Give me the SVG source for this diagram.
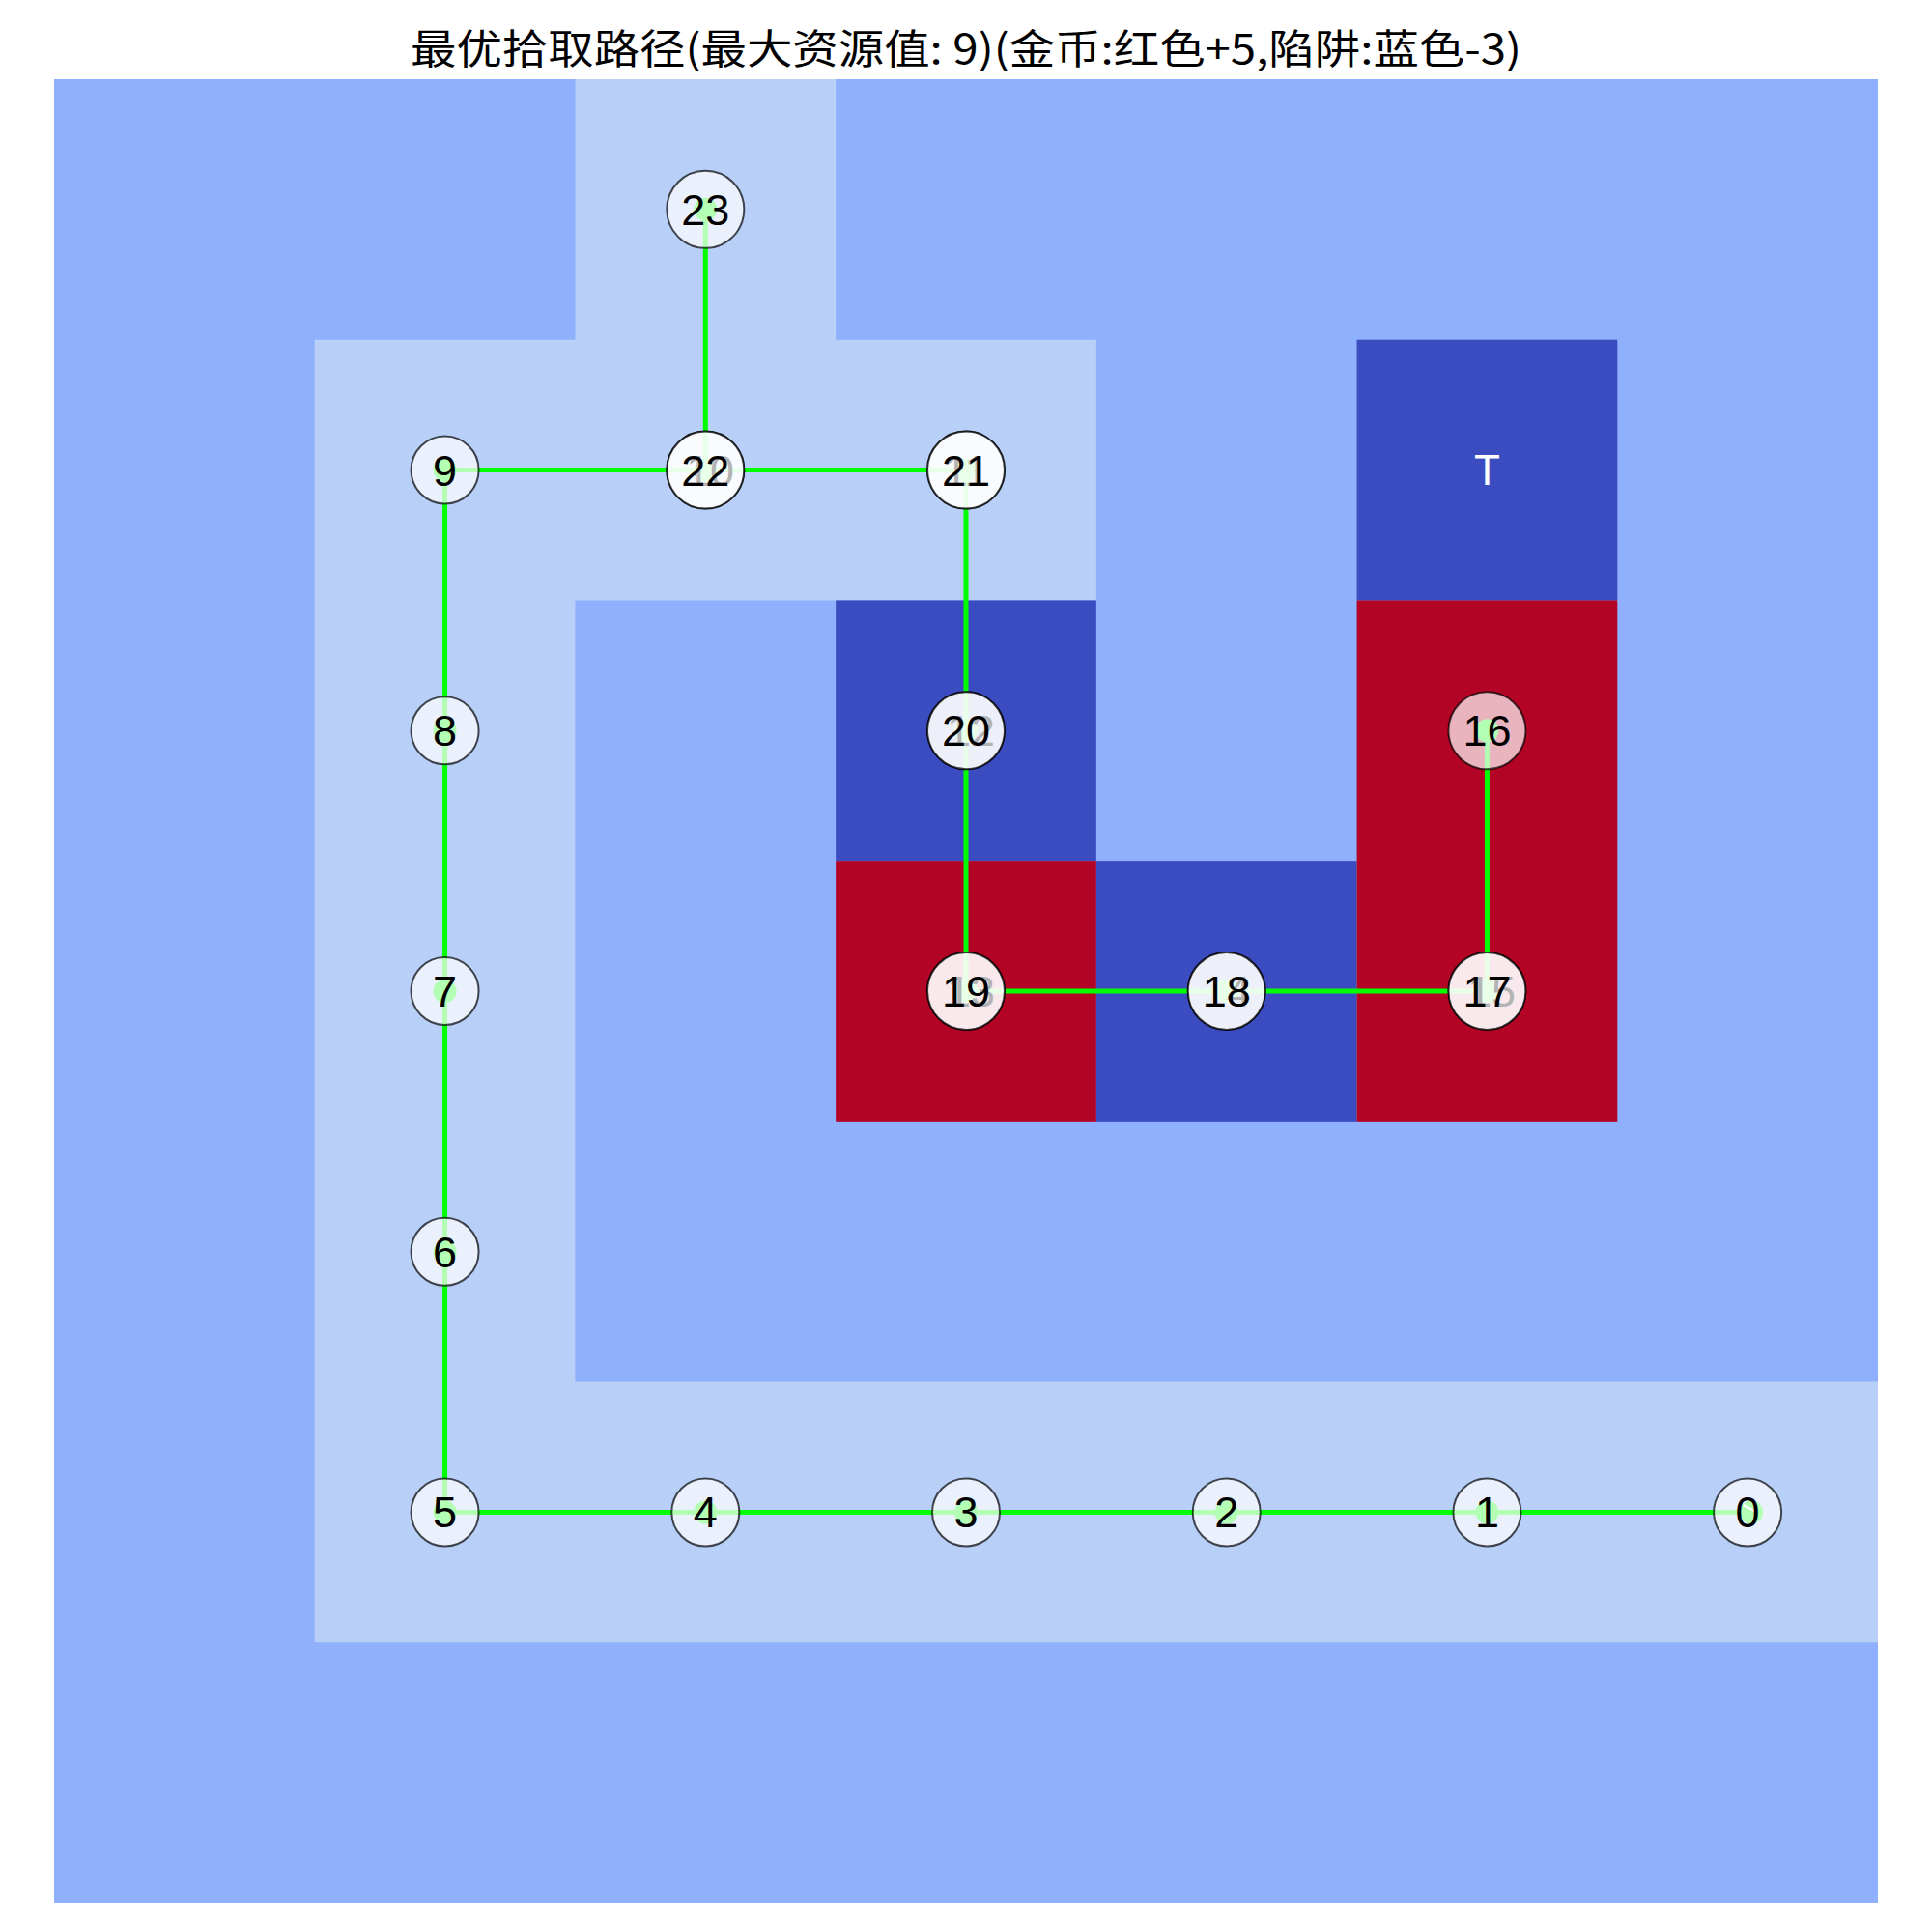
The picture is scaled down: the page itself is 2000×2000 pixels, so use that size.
<svg xmlns="http://www.w3.org/2000/svg" width="2000" height="2000" viewBox="0 0 2000 2000">
<style>
.mid{fill:#8fb0fd}
.lt{fill:#b8cff7}
.dk{fill:#3b4cc0}
.rd{fill:#b40426}
.nd{fill:#ffffff;fill-opacity:0.7;stroke:#000000;stroke-opacity:0.7;stroke-width:2}
.lb{font-family:"Liberation Sans","Noto Sans CJK SC",sans-serif;font-size:45px;fill:#000000;text-anchor:middle}
.title{font-family:"Noto Sans CJK SC",sans-serif;font-size:42px;fill:#000000;text-anchor:middle}
.dot{fill:#00ff00}
</style>
<rect x="0" y="0" width="2000" height="2000" fill="#ffffff"/>
<text class="title" x="1000" y="66" textLength="1150" lengthAdjust="spacingAndGlyphs">最优拾取路径(最大资源值: 9)(金币:红色+5,陷阱:蓝色-3)</text>
<g id="grid">
<rect class="mid" x="56" y="82" width="1888" height="1888"/>
<path class="lt" d="M595.43,82 H865.14 V351.71 H1134.86 V621.43 H595.43 V1430.57 H1944 V1700.29 H325.71 V351.71 H595.43 Z"/>
<rect class="dk" x="1404.57" y="351.71" width="269.72" height="269.72"/>
<rect class="dk" x="865.14" y="621.43" width="269.72" height="269.71"/>
<rect class="dk" x="1134.86" y="891.14" width="269.71" height="269.72"/>
<rect class="rd" x="1404.57" y="621.43" width="269.72" height="539.43"/>
<rect class="rd" x="865.14" y="891.14" width="269.72" height="269.72"/>
<text x="1539.43" y="502" font-family="Liberation Sans, sans-serif" font-size="44" fill="#ffffff" text-anchor="middle">T</text>
</g>
<g id="connectors">
<polyline fill="none" stroke="#00ff00" stroke-width="5" points="1809.14,1565.43 1539.43,1565.43 1269.71,1565.43 1000,1565.43 730.29,1565.43 460.57,1565.43 460.57,1295.71 460.57,1026 460.57,756.29 460.57,486.57 730.29,486.57 1000,486.57 1000,756.29 1000,1026 1269.71,1026 1539.43,1026 1539.43,756.29 1539.43,1026 1269.71,1026 1000,1026 1000,756.29 1000,486.57 730.29,486.57 730.29,216.86"/>
<g id="markers">
<circle class="dot" cx="1813" cy="1565.43" r="12"/>
<circle class="dot" cx="1539.43" cy="1565.43" r="12"/>
<circle class="dot" cx="1269.71" cy="1565.43" r="12"/>
<circle class="dot" cx="1000" cy="1565.43" r="12"/>
<circle class="dot" cx="730.29" cy="1565.43" r="12"/>
<circle class="dot" cx="460.57" cy="1565.43" r="12"/>
<circle class="dot" cx="460.57" cy="1295.71" r="12"/>
<circle class="dot" cx="460.57" cy="1026" r="12"/>
<circle class="dot" cx="460.57" cy="756.29" r="12"/>
<circle class="dot" cx="460.57" cy="486.57" r="12"/>
<circle class="dot" cx="730.29" cy="486.57" r="12"/>
<circle class="dot" cx="1000" cy="486.57" r="12"/>
<circle class="dot" cx="1000" cy="756.29" r="12"/>
<circle class="dot" cx="1000" cy="1026" r="12"/>
<circle class="dot" cx="1269.71" cy="1026" r="12"/>
<circle class="dot" cx="1539.43" cy="1026" r="12"/>
<circle class="dot" cx="1539.43" cy="756.29" r="12"/>
<circle class="dot" cx="730.29" cy="216.86" r="12"/>
</g>
<line x1="1805" y1="1558" x2="1818" y2="1565" stroke="#ffffff" stroke-width="2.5"/>
</g>
<g id="node-0"><circle class="nd" cx="1809.14" cy="1565.43" r="35"/><text class="lb" x="1809.14" y="1581.43">0</text></g>
<g id="node-1"><circle class="nd" cx="1539.43" cy="1565.43" r="35"/><text class="lb" x="1539.43" y="1581.43">1</text></g>
<g id="node-2"><circle class="nd" cx="1269.71" cy="1565.43" r="35"/><text class="lb" x="1269.71" y="1581.43">2</text></g>
<g id="node-3"><circle class="nd" cx="1000" cy="1565.43" r="35"/><text class="lb" x="1000" y="1581.43">3</text></g>
<g id="node-4"><circle class="nd" cx="730.29" cy="1565.43" r="35"/><text class="lb" x="730.29" y="1581.43">4</text></g>
<g id="node-5"><circle class="nd" cx="460.57" cy="1565.43" r="35"/><text class="lb" x="460.57" y="1581.43">5</text></g>
<g id="node-6"><circle class="nd" cx="460.57" cy="1295.71" r="35"/><text class="lb" x="460.57" y="1311.71">6</text></g>
<g id="node-7"><circle class="nd" cx="460.57" cy="1026" r="35"/><text class="lb" x="460.57" y="1042">7</text></g>
<g id="node-8"><circle class="nd" cx="460.57" cy="756.29" r="35"/><text class="lb" x="460.57" y="772.29">8</text></g>
<g id="node-9"><circle class="nd" cx="460.57" cy="486.57" r="35"/><text class="lb" x="460.57" y="502.57">9</text></g>
<g id="node-10"><circle class="nd" cx="730.29" cy="486.57" r="40"/><text class="lb" x="735" y="502.57">10</text></g>
<g id="node-11"><circle class="nd" cx="1000" cy="486.57" r="40"/><text class="lb" x="1000" y="502.57">11</text></g>
<g id="node-12"><circle class="nd" cx="1000" cy="756.29" r="40"/><text class="lb" x="1005" y="772.29">12</text></g>
<g id="node-13"><circle class="nd" cx="1000" cy="1026" r="40"/><text class="lb" x="1005" y="1042">13</text></g>
<g id="node-14"><circle class="nd" cx="1269.71" cy="1026" r="40"/><text class="lb" x="1269.71" y="1042">14</text></g>
<g id="node-15"><circle class="nd" cx="1539.43" cy="1026" r="40"/><text class="lb" x="1544" y="1042">15</text></g>
<g id="node-16"><circle class="nd" cx="1539.43" cy="756.29" r="40"/><text class="lb" x="1539.43" y="772.29">16</text></g>
<g id="node-17"><circle class="nd" cx="1539.43" cy="1026" r="40"/><text class="lb" x="1539.43" y="1042">17</text></g>
<g id="node-18"><circle class="nd" cx="1269.71" cy="1026" r="40"/><text class="lb" x="1269.71" y="1042">18</text></g>
<g id="node-19"><circle class="nd" cx="1000" cy="1026" r="40"/><text class="lb" x="1000" y="1042">19</text></g>
<g id="node-20"><circle class="nd" cx="1000" cy="756.29" r="40"/><text class="lb" x="1000" y="772.29">20</text></g>
<g id="node-21"><circle class="nd" cx="1000" cy="486.57" r="40"/><text class="lb" x="1000" y="502.57">21</text></g>
<g id="node-22"><circle class="nd" cx="730.29" cy="486.57" r="40"/><text class="lb" x="730.29" y="502.57">22</text></g>
<g id="node-23"><circle class="nd" cx="730.29" cy="216.86" r="40"/><text class="lb" x="730.29" y="232.86">23</text></g>
</svg>
